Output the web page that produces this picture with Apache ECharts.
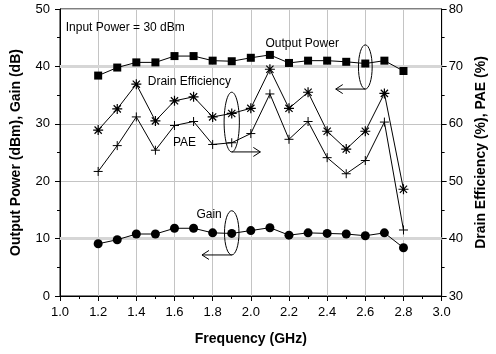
<!DOCTYPE html>
<html>
<head>
<meta charset="utf-8">
<script src="https://cdn.jsdelivr.net/npm/echarts@6/dist/echarts.min.js"></script>
<style>
  body { margin: 0; background: #fff; }
  #main { width: 496px; height: 354px; }
</style>
</head>
<body>
<div id="main"></div>
<script>
// frequency points (GHz)
const freq = [1.2, 1.3, 1.4, 1.5, 1.6, 1.7, 1.8, 1.9, 2.0, 2.1, 2.2, 2.3, 2.4, 2.5, 2.6, 2.7, 2.8];
// left axis: dBm / dB
const outputPower = [38.4, 39.8, 40.7, 40.7, 41.8, 41.8, 41.0, 40.9, 41.5, 42.0, 40.6, 41.0, 41.0, 40.8, 40.5, 41.0, 39.2];
const gain = [9.1, 9.8, 10.8, 10.8, 11.8, 11.8, 11.0, 10.9, 11.4, 11.9, 10.6, 11.0, 10.9, 10.8, 10.5, 11.0, 8.4];
// right axis: %
const drainEff = [58.9, 62.6, 66.9, 60.5, 64.0, 64.7, 61.2, 61.8, 62.7, 69.5, 62.7, 65.5, 58.7, 55.6, 58.7, 65.3, 48.6];
const pae = [51.7, 56.2, 61.2, 55.4, 59.7, 60.4, 56.4, 56.7, 58.3, 65.2, 57.3, 60.4, 54.1, 51.3, 53.6, 60.3, 41.5];

const FONT = 'Liberation Sans, Arial, sans-serif';

function pairs(ys) {
  return freq.map((f, i) => [f, ys[i]]);
}

const plusPath = 'path://M0,-5L0,5M-5,0L5,0';
const starPath = 'path://M0,-5L0,5M-5,0L5,0M-3.6,-3.6L3.6,3.6M-3.6,3.6L3.6,-3.6';

let myChart = echarts.init(document.getElementById('main'));

const axisCommon = {
  axisLine: { show: true, lineStyle: { color: '#000', width: 1 } },
  axisTick: { show: true, length: 5, lineStyle: { color: '#000' } },
  minorTick: { show: true, splitNumber: 2, length: 3, lineStyle: { color: '#000' } },
  axisLabel: { color: '#000', fontSize: 13, fontFamily: FONT },
  nameTextStyle: { color: '#000', fontSize: 14, fontWeight: 'bold', fontFamily: FONT },
  nameLocation: 'middle'
};

let option = {
  animation: false,
  grid: { left: 60, right: 46, top: 9, bottom: 58, show: true, borderColor: '#000', borderWidth: 1 },
  xAxis: Object.assign({}, axisCommon, {
    type: 'value', min: 1.0, max: 3.0, interval: 0.2,
    name: 'Frequency (GHz)', nameGap: 36,
    axisLabel: Object.assign({}, axisCommon.axisLabel, { margin: 10, formatter: v => v.toFixed(1) }),
    splitLine: { show: true, lineStyle: { color: '#c4c4c4', width: 1 } }
  }),
  yAxis: [
    Object.assign({}, axisCommon, {
      type: 'value', min: 0, max: 50, interval: 10,
      name: 'Output Power (dBm), Gain (dB)', nameGap: 37,
      axisLabel: Object.assign({}, axisCommon.axisLabel, { margin: 10 }),
      splitLine: { show: true, lineStyle: { color: '#c4c4c4', width: 1 } }
    }),
    Object.assign({}, axisCommon, {
      type: 'value', min: 30, max: 80, interval: 10, position: 'right',
      name: 'Drain Efficiency (%), PAE (%)', nameGap: 28,
      axisLabel: Object.assign({}, axisCommon.axisLabel, { margin: 7 }),
      splitLine: { show: false }
    })
  ],
  series: [
    {
      name: 'Output Power', type: 'line', yAxisIndex: 0, data: pairs(outputPower),
      symbol: 'rect', symbolSize: 8,
      itemStyle: { color: '#000' }, lineStyle: { color: '#000', width: 1 },
      markLine: {
        silent: true, symbol: 'none', label: { show: false },
        lineStyle: { color: '#d6d6d6', width: 3, type: 'solid' },
        data: [{ yAxis: 10 }, { yAxis: 40 }],
        z: 1
      },
      z: 5
    },
    {
      name: 'Gain', type: 'line', yAxisIndex: 0, data: pairs(gain),
      symbol: 'circle', symbolSize: 9,
      itemStyle: { color: '#000' }, lineStyle: { color: '#000', width: 1 },
      z: 5
    },
    {
      name: 'Drain Efficiency', type: 'line', yAxisIndex: 1, data: pairs(drainEff),
      symbol: starPath, symbolSize: 10,
      itemStyle: { color: 'transparent', borderColor: '#000', borderWidth: 1.2 },
      lineStyle: { color: '#000', width: 1 },
      z: 5
    },
    {
      name: 'PAE', type: 'line', yAxisIndex: 1, data: pairs(pae),
      symbol: plusPath, symbolSize: 9,
      itemStyle: { color: 'transparent', borderColor: '#000', borderWidth: 1 },
      lineStyle: { color: '#000', width: 1 },
      z: 5
    }
  ]
};
myChart.setOption(option);

// annotations: ellipses with arrows, placed in left-axis data coordinates
const ellipses = [
  { x: 1.9, y: 30.3, rx: 0.04, ry: 5.2, arrowTo: 2.05 },
  { x: 2.6, y: 39.9, rx: 0.036, ry: 3.85, arrowTo: 2.445 },
  { x: 1.9, y: 11.0, rx: 0.038, ry: 3.85, arrowTo: 1.744 }
];
const labels = [
  { text: 'Input Power = 30 dBm', x: 1.03, y: 46.8 },
  { text: 'Output Power', x: 2.077, y: 44.0 },
  { text: 'Drain Efficiency', x: 1.46, y: 37.4 },
  { text: 'PAE', x: 1.592, y: 26.7 },
  { text: 'Gain', x: 1.715, y: 14.1 }
];

function px(x, y) {
  return myChart.convertToPixel({ xAxisIndex: 0, yAxisIndex: 0 }, [x, y]);
}

let graphics = [];
ellipses.forEach(e => {
  const c = px(e.x, e.y);
  const edge = px(e.x + e.rx, e.y - e.ry);
  const rx = edge[0] - c[0], ry = edge[1] - c[1];
  graphics.push({
    type: 'ellipse', shape: { cx: c[0], cy: c[1], rx: rx, ry: ry },
    style: { fill: 'none', stroke: '#000', lineWidth: 1 }, z: 10
  });
  const start = [c[0], c[1] + ry];
  const end = [px(e.arrowTo, 0)[0], start[1]];
  const dir = end[0] > start[0] ? 1 : -1;
  graphics.push({
    type: 'polyline', shape: { points: [start, end] },
    style: { stroke: '#000', lineWidth: 1, fill: 'none' }, z: 10
  });
  graphics.push({
    type: 'polyline',
    shape: { points: [[end[0] - dir * 7, end[1] - 4.5], end, [end[0] - dir * 7, end[1] + 4.5]] },
    style: { stroke: '#000', lineWidth: 1, fill: 'none' }, z: 10
  });
});
labels.forEach(l => {
  const p = px(l.x, l.y);
  graphics.push({
    type: 'text', x: p[0], y: p[1],
    style: { text: l.text, fill: '#000', font: '12px ' + FONT, textVerticalAlign: 'middle' },
    z: 11
  });
});
myChart.setOption({ graphic: graphics });
</script>
</body>
</html>
